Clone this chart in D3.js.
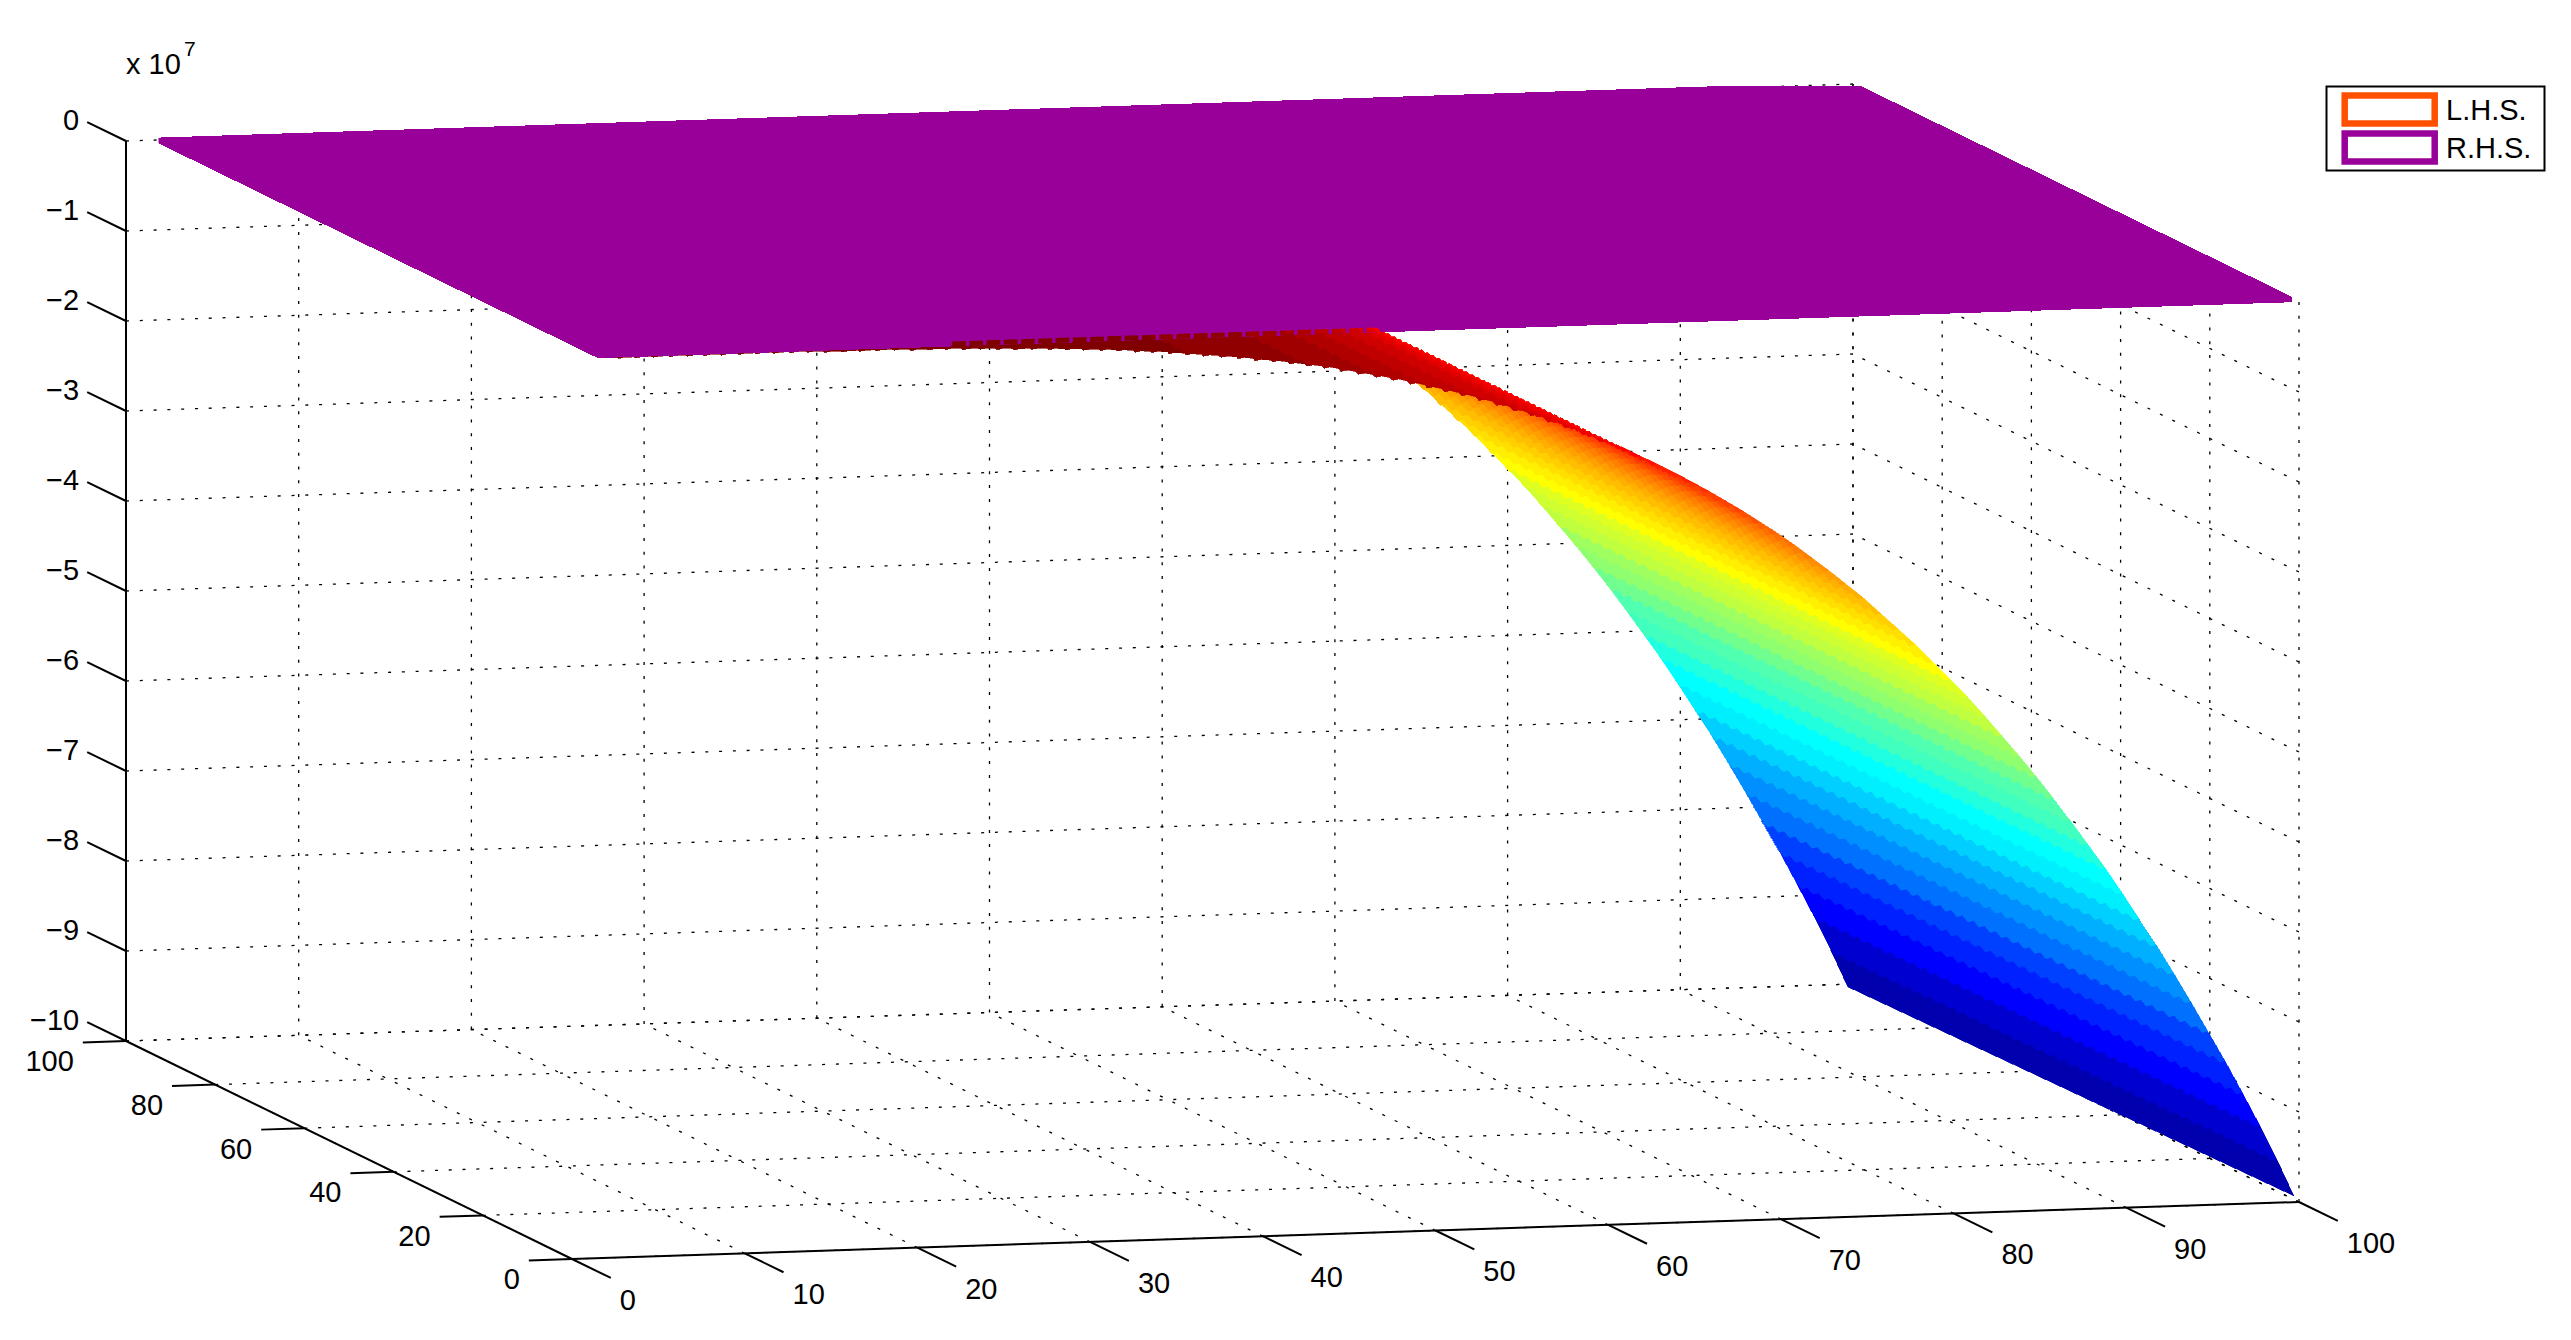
<!DOCTYPE html>
<html>
<head>
<meta charset="utf-8">
<script src="https://cdn.jsdelivr.net/npm/d3@7"></script>
<style>
  body { margin: 0; background: #fff; }
  text { font-family: "Liberation Sans", Arial, sans-serif; font-size: 29px; fill: #000; }
</style>
</head>
<body>
<div id="chart"></div>
<script>
// tick labels
var xTicks = [0, 10, 20, 30, 40, 50, 60, 70, 80, 90, 100];
var yTicks = [0, 20, 40, 60, 80, 100];
var zTicks = [0, -1, -2, -3, -4, -5, -6, -7, -8, -9, -10];

// L.H.S. surface: one row of the mesh per x value, z in units of 1e7
var lhsX = [3, 4, 5, 6, 7, 8, 9, 10, 11, 12, 13, 14, 15, 16, 17, 18, 19, 20,
    21, 22, 23, 24, 25, 26, 27, 28, 29, 30, 31, 32, 33, 34, 35, 36, 37, 38, 39, 40,
    41, 42, 43, 44, 45, 46, 47, 48, 49, 50, 51, 52, 53, 54, 55, 56, 57, 58, 59, 60,
    61, 62, 63, 64, 65, 66, 67, 68, 69, 70, 71, 72, 73, 74, 75, 76, 77, 78, 79, 80,
    81, 82, 83, 84, 85, 86, 87, 88, 89, 90, 91, 92, 93, 94, 95, 96, 97, 98, 99, 100];
var lhsZ = [0, 0, 0, 0, 0, 0, 0, 0, 0, 0, 0, 0, -0.01, -0.01, -0.01, -0.01, -0.01, -0.02,
    -0.02, -0.02, -0.03, -0.03, -0.04, -0.05, -0.05, -0.06, -0.07, -0.08, -0.09, -0.10, -0.12, -0.13, -0.15, -0.17, -0.19, -0.21, -0.23, -0.26,
    -0.28, -0.31, -0.34, -0.37, -0.41, -0.45, -0.49, -0.53, -0.58, -0.63, -0.68, -0.73, -0.79, -0.85, -0.92, -0.98, -1.06, -1.13, -1.21, -1.30,
    -1.38, -1.48, -1.58, -1.68, -1.79, -1.90, -2.02, -2.14, -2.27, -2.40, -2.54, -2.69, -2.84, -3.00, -3.16, -3.34, -3.52, -3.70, -3.90, -4.10,
    -4.30, -4.52, -4.75, -4.98, -5.22, -5.47, -5.73, -6.00, -6.27, -6.56, -6.86, -7.16, -7.48, -7.81, -8.15, -8.49, -8.85, -9.22, -9.61, -10.03];
// near edge of the surface (y = 0) sits a little higher than the far edge (y = 100)
var lhsEdgeRatio = [0.99, 1];

// R.H.S. plane, flat at z = 0
var rhsX = [1.5, 100.2];
var rhsY = [0, 101];
var rhsZ = 0;

var legendLabels = ["L.H.S.", "R.H.S."];
var legendColors = ["#ff5000", "#990099"];

var width = 2571, height = 1340;

var svg = d3.select("#chart").append("svg")
    .attr("width", width)
    .attr("height", height)
    .style("display", "block");

// fixed matlab-like view, orthographic, so every data axis maps linearly to the screen
var xToPx = d3.scaleLinear().domain([0, 100]).range([0, 1727]);
var xToPy = d3.scaleLinear().domain([0, 100]).range([0, -57]);
var yToPx = d3.scaleLinear().domain([0, 100]).range([0, -446]);
var yToPy = d3.scaleLinear().domain([0, 100]).range([0, -218]);
var zToPy = d3.scaleLinear().domain([-10, 0]).range([0, -900]);
var origin = [572, 1259];

function project(x, y, z) {
    return [origin[0] + xToPx(x) + yToPx(y), origin[1] + xToPy(x) + yToPy(y) + zToPy(z)];
}

// surface mesh stops just short of x = 100
var meshX = d3.scaleLinear().domain([0, 100]).range([0, 99.7]);
var edgeRatio = d3.scaleLinear().domain([0, 100]).range(lhsEdgeRatio);

// jet(64), same stops as matlab
var jet = d3.scaleLinear()
    .domain([0, 7, 23, 39, 55, 63])
    .range(["#00008f", "#0000ff", "#00ffff", "#ffff00", "#ff0000", "#800000"]);
var color = d3.scaleQuantize().domain([-10, 0]).range(d3.range(64).map(jet));

var defs = svg.append("defs");

// the plane gets cut off by the plot box at the top and both sides
defs.append("clipPath").attr("id", "plane-clip")
    .append("rect").attr("x", 158.5).attr("y", 86).attr("width", 2292 - 158.5).attr("height", height);

// grid
var grid = svg.append("g")
    .attr("fill", "none")
    .attr("stroke", "#000")
    .attr("stroke-width", 1.3)
    .attr("stroke-dasharray", "3 10.8");

function gridLine(a, b) {
    grid.append("path").attr("d", d3.line()([project(a[0], a[1], a[2]), project(b[0], b[1], b[2])]));
}

xTicks.forEach(function (x) {
    gridLine([x, 100, -10], [x, 100, 0]); // back wall
    gridLine([x, 0, -10], [x, 100, -10]); // floor
});
yTicks.forEach(function (y) {
    gridLine([100, y, -10], [100, y, 0]); // side wall
    gridLine([0, y, -10], [100, y, -10]); // floor
});
zTicks.forEach(function (z) {
    gridLine([0, 100, z], [100, 100, z]);
    if (z < 0) gridLine([100, 0, z], [100, 100, z]);
});

// surface: far rows first, nearer rows paint over them
var surface = svg.append("g").attr("id", "surface").attr("shape-rendering", "crispEdges");
var toothStep = 1.25, toothSize = 4;

function rowEdge(i) {
    var tooth = i == lhsX.length - 1 ? 0 : toothSize; // outer edge stays straight
    return d3.range(0, 100 + toothStep / 2, toothStep).map(function (y, j) {
        var p = project(meshX(lhsX[i]), y, lhsZ[i] * edgeRatio(y));
        return [p[0], p[1] + (j % 2 ? tooth : 0)];
    });
}

for (var i = lhsX.length - 2; i >= 0; i--) {
    var pts = rowEdge(i).concat(rowEdge(i + 1).reverse());
    surface.append("path")
        .attr("d", d3.line()(pts) + "Z")
        .attr("fill", color(lhsZ[i]))
        .attr("stroke", color(lhsZ[i]))
        .attr("stroke-width", 0.6);
}

// plane goes on top
svg.append("path")
    .attr("d", d3.line()([
        project(rhsX[0], rhsY[0], rhsZ),
        project(rhsX[1], rhsY[0], rhsZ),
        project(rhsX[1], rhsY[1], rhsZ),
        project(rhsX[0], rhsY[1], rhsZ)
    ]) + "Z")
    .attr("fill", legendColors[1])
    .attr("clip-path", "url(#plane-clip)")
    .attr("shape-rendering", "crispEdges");

// the surface pokes through the front edge of the plane, one small tooth per row
var teeth = defs.append("clipPath").attr("id", "teeth");
lhsX.filter(function (x) { return x >= 22; }).forEach(function (x) {
    var a = project(x, 0, rhsZ), b = project(x + 0.8, 0, rhsZ);
    teeth.append("path").attr("d", d3.line()([a, b, [b[0], b[1] - 5], [a[0], a[1] - 5]]) + "Z");
});
svg.append("use").attr("href", "#surface").attr("clip-path", "url(#teeth)");

// axes
var axes = svg.append("g").attr("stroke", "#000").attr("stroke-width", 2).attr("fill", "none");

function axisLine(a, b) {
    axes.append("path").attr("d", d3.line()([project(a[0], a[1], a[2]), project(b[0], b[1], b[2])]));
}

axisLine([0, 0, -10], [100, 0, -10]);
axisLine([0, 0, -10], [0, 100, -10]);
axisLine([0, 100, -10], [0, 100, 0]);

var tickLen = 8.7;

xTicks.forEach(function (x) {
    axisLine([x, 0, -10], [x, -tickLen, -10]);
    var p = project(x, -tickLen, -10);
    svg.append("text").attr("x", p[0] + 9).attr("y", p[1] + 32).text(x);
});
yTicks.forEach(function (y) {
    axisLine([0, y, -10], [-2.5, y, -10]);
    var p = project(-2.5, y, -10);
    svg.append("text").attr("x", p[0] - 9).attr("y", p[1] + 29).attr("text-anchor", "end").text(y);
});
zTicks.forEach(function (z) {
    axisLine([0, 100, z], [0, 100 + tickLen, z]);
    var p = project(0, 100 + tickLen, z);
    svg.append("text").attr("x", p[0] - 8).attr("y", p[1] + 7.5).attr("text-anchor", "end")
        .text(String(z).replace("-", "\u2212"));
});

// exponent
svg.append("text").attr("x", 126).attr("y", 74).text("x 10");
svg.append("text").attr("x", 184).attr("y", 56).style("font-size", "21px").text("7");

// legend
var legend = svg.append("g");
legend.append("rect")
    .attr("x", 2326.5).attr("y", 86.5)
    .attr("width", 218).attr("height", 84)
    .attr("fill", "#fff").attr("stroke", "#000").attr("stroke-width", 2);

legendLabels.forEach(function (label, i) {
    var top = 95.5 + i * 38;
    legend.append("rect")
        .attr("x", 2344.7).attr("y", top)
        .attr("width", 90).attr("height", 28)
        .attr("fill", "none").attr("stroke", legendColors[i]).attr("stroke-width", 6.5);
    legend.append("text").attr("x", 2446).attr("y", top + 24).text(label);
});
</script>
</body>
</html>
